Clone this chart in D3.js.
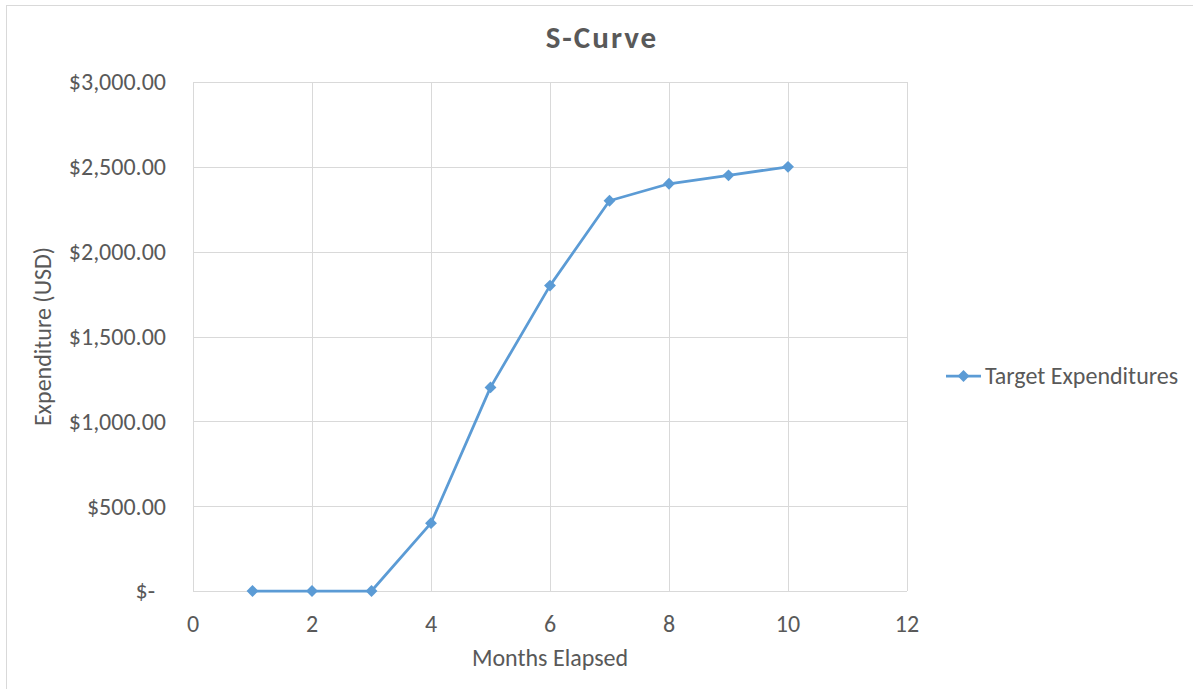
<!DOCTYPE html>
<html>
<head>
<meta charset="utf-8">
<script src="https://cdn.jsdelivr.net/npm/d3@7/dist/d3.min.js"></script>
<style>
  html, body { margin: 0; padding: 0; background: #fff; }
  svg text { font-family: Carlito, Calibri, Lato, sans-serif; fill: #595959; }
</style>
</head>
<body>
<svg id="chart" width="1193" height="689"></svg>
<script>
// Cumulative target spending by month
const months = [1, 2, 3, 4, 5, 6, 7, 8, 9, 10];
const expenditures = [0, 0, 0, 400, 1200, 1800, 2300, 2400, 2450, 2500];
const xTicks = [0, 2, 4, 6, 8, 10, 12];
const yTicks = [0, 500, 1000, 1500, 2000, 2500, 3000];
const seriesName = "Target Expenditures";
const chartTitle = "S-Curve";
const xTitle = "Months Elapsed";
const yTitle = "Expenditure (USD)";

const svg = d3.select("#chart");
const W = 1193, H = 689;
const plot = { left: 193, right: 907, top: 82, bottom: 591 };
const blue = "#5B9BD5";
const fs = 24;

// chart frame
svg.append("rect")
  .attr("x", 6.5).attr("y", 5.5)
  .attr("width", W + 10).attr("height", H + 10)
  .attr("fill", "#fff").attr("stroke", "#d9d9d9").attr("stroke-width", 1);

const x = d3.scaleLinear().domain([0, 12]).range([plot.left, plot.right]);
const y = d3.scaleLinear().domain([0, 3000]).range([plot.bottom, plot.top]);

// gridlines
const grid = svg.append("g").attr("stroke", "#d9d9d9").attr("stroke-width", 1);
grid.selectAll("line.h").data(yTicks).join("line")
  .attr("x1", plot.left).attr("x2", plot.right)
  .attr("y1", d => Math.round(y(d)) + 0.5).attr("y2", d => Math.round(y(d)) + 0.5);
grid.selectAll("line.v").data(xTicks).join("line")
  .attr("y1", plot.top).attr("y2", plot.bottom)
  .attr("x1", d => Math.round(x(d)) + 0.5).attr("x2", d => Math.round(x(d)) + 0.5);

// y axis labels (accounting style)
const money = d3.format("$,.2f");
svg.append("g").selectAll("text").data(yTicks).join("text")
  .attr("x", d => d === 0 ? 155 : 166)
  .attr("y", d => y(d))
  .attr("dy", "0.35em")
  .attr("text-anchor", "end")
  .attr("font-size", fs)
  .text(d => d === 0 ? "$-" : money(d));

// x axis labels
svg.append("g").selectAll("text").data(xTicks).join("text")
  .attr("x", d => x(d))
  .attr("y", 632)
  .attr("text-anchor", "middle")
  .attr("font-size", fs)
  .text(d => d);

// titles
svg.append("text")
  .attr("x", 602).attr("y", 48)
  .attr("text-anchor", "middle")
  .attr("font-size", 31).attr("font-weight", "bold")
  .attr("letter-spacing", 2)
  .text(chartTitle);

svg.append("text")
  .attr("x", (plot.left + plot.right) / 2).attr("y", 666)
  .attr("text-anchor", "middle")
  .attr("font-size", fs)
  .text(xTitle);

svg.append("text")
  .attr("transform", `translate(51, ${(plot.top + plot.bottom) / 2}) rotate(-90)`)
  .attr("text-anchor", "middle")
  .attr("font-size", fs)
  .text(yTitle);

// series line and diamond markers
const pts = months.map((m, i) => [m, expenditures[i]]);
svg.append("path")
  .datum(pts)
  .attr("fill", "none")
  .attr("stroke", blue)
  .attr("stroke-width", 2.75)
  .attr("stroke-linejoin", "round")
  .attr("d", d3.line().x(d => x(d[0])).y(d => y(d[1])));

const diamond = d3.symbol().type(d3.symbolDiamond2).size(90);
svg.append("g").selectAll("path").data(pts).join("path")
  .attr("transform", d => `translate(${x(d[0])},${y(d[1])})`)
  .attr("d", diamond)
  .attr("fill", blue);

// legend
const lg = svg.append("g").attr("transform", "translate(946, 376)");
lg.append("line").attr("x1", 0).attr("x2", 35).attr("y1", 0).attr("y2", 0)
  .attr("stroke", blue).attr("stroke-width", 2.75);
lg.append("path").attr("transform", "translate(17.5,0)").attr("d", diamond).attr("fill", blue);
lg.append("text").attr("x", 39).attr("y", 0).attr("dy", "0.35em")
  .attr("font-size", fs).text(seriesName);
</script>
</body>
</html>
